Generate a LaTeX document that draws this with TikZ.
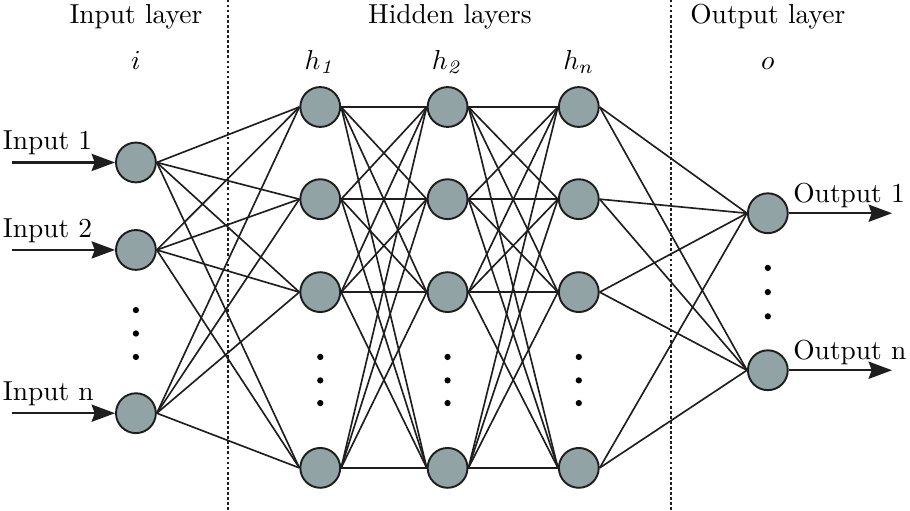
\documentclass[tikz,border=0pt]{standalone}
\usetikzlibrary{positioning}
\usetikzlibrary{arrows.meta}
\definecolor{neuron grey}{RGB}{145,163,165}
\definecolor{wire}{RGB}{30,30,30}
\tikzset{
    % Filled triangle tip, used for the inputs and outputs
    >={Stealth[length=3.0mm,width=2.2mm,inset=0.4mm]},
%
    % One neuron of the net
    neuron/.style={
        circle, draw=wire, line width=0.7pt, fill=neuron grey,
        minimum size=5.1mm, inner sep=0},
%
    % Connection between two neurons
    synapse/.style={draw=wire, line width=0.6pt},
%
    % Signal going in or out of the net
    signal/.style={->, draw=wire, line width=0.8pt},
%
    % Dotted separator between the layers
    layer split/.style={
        draw=wire, line width=0.5pt, dash pattern=on 0.35mm off 0.3mm},
%
    % Small dots standing for the neurons left out
    more dot/.style={circle, fill=black, minimum size=0.8mm, inner sep=0},
%
    % Texts set on their base line
    base text/.style={anchor=base, inner sep=0}}

\begin{document}
\begin{tikzpicture}

% Whole page, 910 x 510 at 0.128mm a pixel
\useasboundingbox (0,0) rectangle (116.5mm,65.3mm);

\draw [layer split] (29.2mm,0) -- (29.2mm,65.3mm);
\draw [layer split] (85.9mm,0) -- (85.9mm,65.3mm);

% Headings

\node [base text] (input head) at (17.4mm,62.3mm) {Input layer};
\node [base text] (hidden head) at (57.6mm,62.3mm) {Hidden layers};
\node [base text] (output head) at (98.3mm,62.3mm) {Output layer};

\node [base text] (i name) at (17.4mm,56.4mm) {$i$};
\node [base text] (h1 name) at (41.0mm,56.4mm) {$h_{\mathit{1}}$};
\node [base text] (h2 name) at (57.3mm,56.4mm) {$h_{\mathit{2}}$};
\node [base text] (h3 name) at (74.1mm,56.4mm) {$h_n$};
\node [base text] (o name) at (98.3mm,56.4mm) {$o$};

% Input layer

\node [neuron] (i1) at (17.4mm,44.5mm) {};
\node [neuron] (i2) at (17.4mm,33.3mm) {};
\node [neuron] (i3) at (17.4mm,12.4mm) {};
\foreach \y in {25.6,22.6,19.6}
    \node [more dot] at (17.4mm,\y mm) {};

\coordinate (i1 src) at (1.5mm,44.5mm);
\coordinate (i2 src) at (1.5mm,33.3mm);
\coordinate (i3 src) at (1.5mm,12.4mm);
\node [base text, anchor=base west] (i1 text) at (0.3mm,46.1mm) {Input 1};
\node [base text, anchor=base west] (i2 text) at (0.3mm,34.9mm) {Input 2};
\node [base text, anchor=base west] (i3 text) at (0.3mm,14.0mm) {Input n};
\foreach \a in {1,2,3}
    \draw [signal] (i\a\space src) -- (i\a);

% Hidden layers

\foreach \l/\x in {1/41.0,2/57.3,3/74.1} {
    \node [neuron] (h\l-1) at (\x mm,51.6mm) {};
    \node [neuron] (h\l-2) at (\x mm,39.8mm) {};
    \node [neuron] (h\l-3) at (\x mm,27.9mm) {};
    \node [neuron] (h\l-4) at (\x mm,5.4mm) {};
    \foreach \y in {19.6,16.6,13.7}
        \node [more dot] at (\x mm,\y mm) {};
}

% Output layer

\node [neuron] (o1) at (98.3mm,38.0mm) {};
\node [neuron] (o2) at (98.3mm,17.9mm) {};
\foreach \y in {31.0,27.9,24.8}
    \node [more dot] at (98.3mm,\y mm) {};

\coordinate (o1 dst) at (114.2mm,38.0mm);
\coordinate (o2 dst) at (114.2mm,17.9mm);
\node [base text, anchor=base west] (o1 text) at (101.5mm,39.4mm) {Output 1};
\node [base text, anchor=base west] (o2 text) at (101.5mm,19.3mm) {Output n};
\foreach \a in {1,2}
    \draw [signal] (o\a) -- (o\a\space dst);

% Connections

\foreach \a in {1,2,3}
    \foreach \b in {1,...,4}
        \draw [synapse] (i\a.east) -- (h1-\b.west);
\foreach \l/\m in {1/2,2/3}
    \foreach \a in {1,...,4}
        \foreach \b in {1,...,4}
            \draw [synapse] (h\l-\a.east) -- (h\m-\b.west);
\foreach \a in {1,...,4}
    \foreach \b in {1,2}
        \draw [synapse] (h3-\a.east) -- (o\b.west);

\end{tikzpicture}
\end{document}
